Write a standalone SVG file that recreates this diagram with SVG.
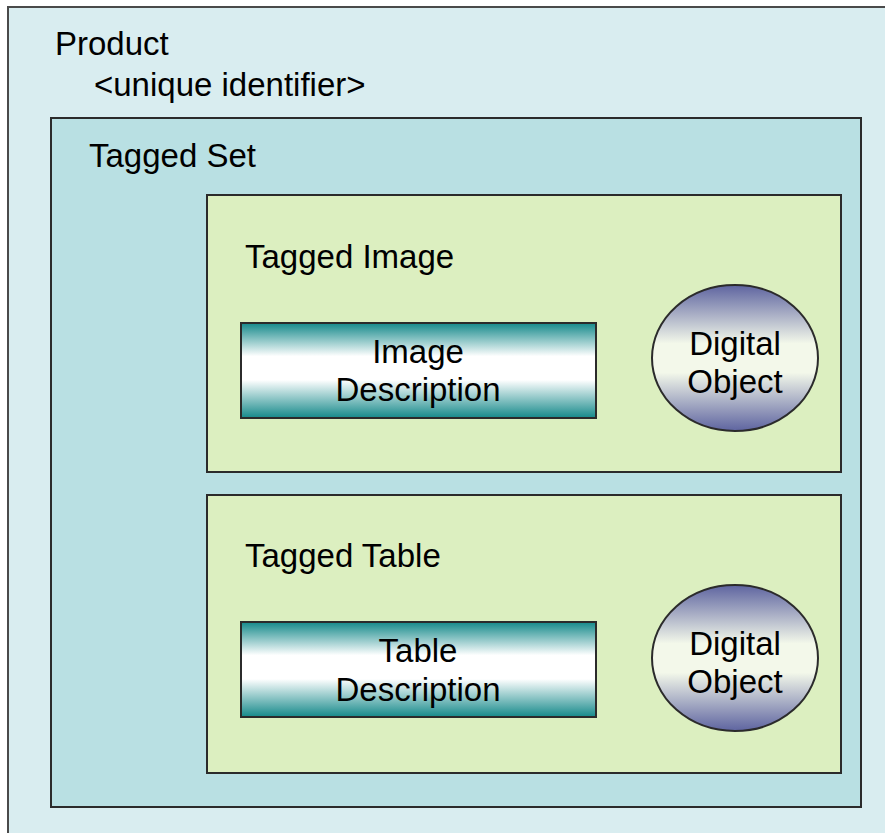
<svg xmlns="http://www.w3.org/2000/svg" width="885" height="833" viewBox="0 0 885 833">
<defs>
<linearGradient id="teal" x1="0" y1="0" x2="0" y2="1">
<stop offset="0" stop-color="#15898a"/>
<stop offset="0.35" stop-color="#ffffff"/>
<stop offset="0.6" stop-color="#ffffff"/>
<stop offset="1" stop-color="#15898a"/>
</linearGradient>
<linearGradient id="violet" x1="0" y1="0" x2="0" y2="1">
<stop offset="0" stop-color="#5e64a0"/>
<stop offset="0.4" stop-color="#f3f8ea"/>
<stop offset="0.6" stop-color="#f3f8ea"/>
<stop offset="1" stop-color="#5e64a0"/>
</linearGradient>
</defs>
<style>
text{font-family:"Liberation Sans",Arial,sans-serif;font-size:33px;fill:#000}
.c{text-anchor:middle}
.box{stroke:#2b2b2b;stroke-width:2}
</style>
<rect width="885" height="833" fill="#ffffff"/>
<g id="product">
<rect x="8" y="7" width="900" height="900" fill="#d9edf0" stroke="#4a4a4a" stroke-width="2"/>
<text x="55" y="55">Product</text>
<text x="94" y="96">&lt;unique identifier&gt;</text>
</g>
<g id="tagged-set">
<rect x="51" y="118" width="810" height="689" fill="#b9e0e3" class="box"/>
<text x="89" y="167">Tagged Set</text>
</g>
<g id="tagged-image">
<rect x="207" y="195" width="634" height="277" fill="#dcefc0" class="box"/>
<text x="245" y="268">Tagged Image</text>
</g>
<g id="image-description">
<rect x="241" y="323" width="355" height="95" fill="url(#teal)" class="box"/>
<text class="c" x="418" y="363">Image</text>
<text class="c" x="418" y="401">Description</text>
</g>
<g id="digital-object-1">
<ellipse cx="735" cy="358" rx="83" ry="73" fill="url(#violet)" class="box"/>
<text class="c" x="735" y="355">Digital</text>
<text class="c" x="735" y="393">Object</text>
</g>
<g id="tagged-table">
<rect x="207" y="495" width="634" height="278" fill="#dcefc0" class="box"/>
<text x="245" y="567">Tagged Table</text>
</g>
<g id="table-description">
<rect x="241" y="622" width="355" height="95" fill="url(#teal)" class="box"/>
<text class="c" x="418" y="662">Table</text>
<text class="c" x="418" y="701">Description</text>
</g>
<g id="digital-object-2">
<ellipse cx="735" cy="658" rx="83" ry="73" fill="url(#violet)" class="box"/>
<text class="c" x="735" y="655">Digital</text>
<text class="c" x="735" y="693">Object</text>
</g>
<g id="connectors"></g>
</svg>
